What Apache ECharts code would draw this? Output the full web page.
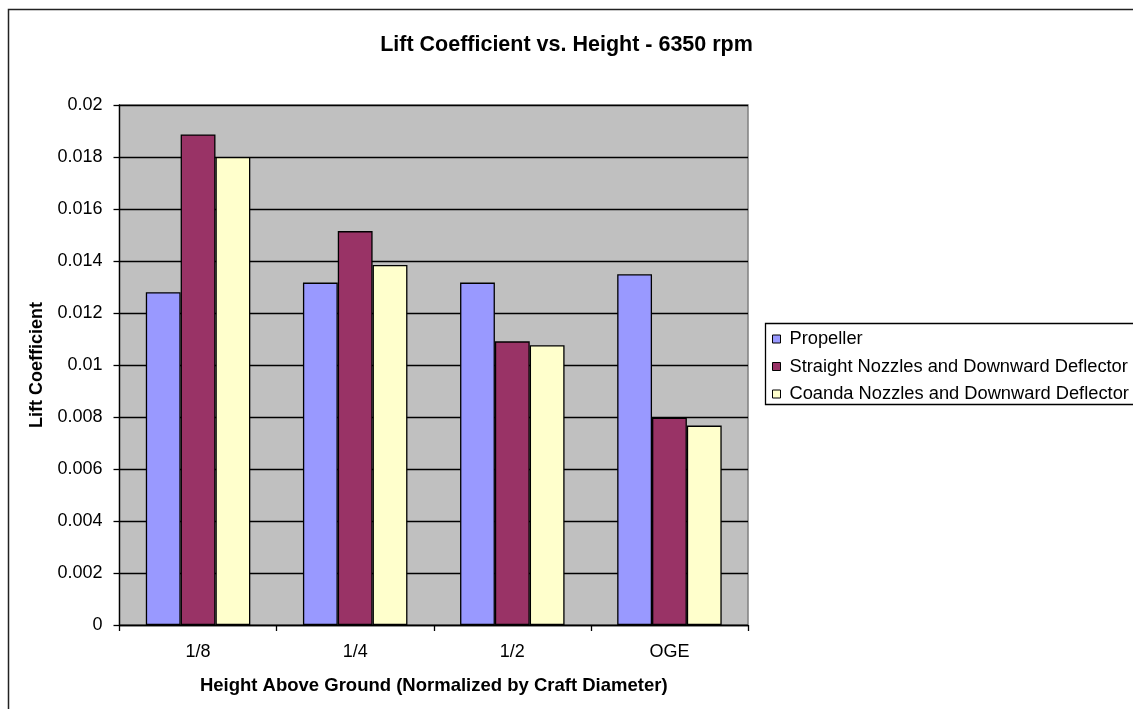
<!DOCTYPE html>
<html>
<head>
<meta charset="utf-8">
<title>Lift Coefficient vs. Height - 6350 rpm</title>
<script src="https://cdn.jsdelivr.net/npm/echarts@6/dist/echarts.min.js"></script>
<style>
  html, body { margin: 0; padding: 0; background: #ffffff; }
  #chart { width: 1133px; height: 709px; }
</style>
</head>
<body>
<div id="chart"></div>
<script>
// Heights above ground, normalized by craft diameter
const categories = ['1/8', '1/4', '1/2', 'OGE'];

// Lift coefficient per configuration
const seriesNames = [
  'Propeller',
  'Straight Nozzles and Downward Deflector',
  'Coanda Nozzles and Downward Deflector'
];
const propeller = [0.0128, 0.01317, 0.01317, 0.01349];
const straightNozzles = [0.01887, 0.01515, 0.01091, 0.00797];
const coandaNozzles = [0.0180, 0.01385, 0.01076, 0.00767];

// Value axis range
const yMin = 0;
const yMax = 0.02;
const yStep = 0.002;

const FONT = '"Liberation Sans", Arial, sans-serif';
const colors = ['#9999FF', '#993366', '#FFFFCC'];
const values = [propeller, straightNozzles, coandaNozzles];

const chart = echarts.init(document.getElementById('chart'), null, { renderer: 'canvas' });

chart.setOption({
  animation: false,
  backgroundColor: '#ffffff',
  title: {
    text: 'Lift Coefficient vs. Height - 6350 rpm',
    left: 'center',
    top: 29,
    textStyle: { fontFamily: FONT, fontSize: 21.5, fontWeight: 'bold', color: '#000' }
  },
  graphic: [
    // chart area frame
    {
      type: 'rect',
      shape: { x: 8.5, y: 9.5, width: 1200, height: 800 },
      style: { fill: 'none', stroke: '#222', lineWidth: 1.5 },
      silent: true
    },
    // legend frame
    {
      type: 'rect',
      shape: { x: 765.5, y: 323.5, width: 420, height: 81 },
      style: { fill: '#fff', stroke: '#000', lineWidth: 1.3 },
      silent: true,
      z: -1
    }
  ],
  legend: {
    orient: 'vertical',
    left: 772,
    top: 330,
    padding: 0,
    itemWidth: 8,
    itemHeight: 8,
    itemGap: 9.5,
    icon: 'rect',
    itemStyle: { borderColor: '#000', borderWidth: 1 },
    textStyle: { fontFamily: FONT, fontSize: 18.3, color: '#000', lineHeight: 18, padding: [0, 0, 0, 4] },
    data: seriesNames
  },
  grid: {
    left: 119.5,
    right: 385,
    top: 105,
    bottom: 84,
    show: true,
    backgroundColor: '#C0C0C0',
    borderColor: '#808080',
    borderWidth: 1.5,
    containLabel: false
  },
  xAxis: {
    type: 'category',
    data: categories,
    boundaryGap: true,
    name: 'Height Above Ground (Normalized by Craft Diameter)',
    nameLocation: 'middle',
    nameGap: 51,
    nameTextStyle: { fontFamily: FONT, fontSize: 18.5, fontWeight: 'bold', color: '#000' },
    axisLine: { show: true, lineStyle: { color: '#000', width: 1.3 } },
    axisTick: { show: true, length: 6, alignWithLabel: false, lineStyle: { color: '#000', width: 1.3 } },
    axisLabel: { margin: 18, fontFamily: FONT, fontSize: 18, color: '#000' },
    splitLine: { show: false }
  },
  yAxis: {
    type: 'value',
    min: yMin,
    max: yMax,
    interval: yStep,
    name: 'Lift Coefficient',
    nameLocation: 'middle',
    nameRotate: 90,
    nameGap: 73,
    nameTextStyle: { fontFamily: FONT, fontSize: 18, fontWeight: 'bold', color: '#000' },
    axisLine: { show: true, lineStyle: { color: '#000', width: 1.3 } },
    axisTick: { show: true, length: 6, lineStyle: { color: '#000', width: 1.3 } },
    axisLabel: {
      margin: 17,
      fontFamily: FONT,
      fontSize: 18,
      color: '#000',
      formatter: (v) => String(parseFloat(v.toFixed(4)))
    },
    splitLine: { show: true, lineStyle: { color: '#000', width: 1.3 } }
  },
  series: seriesNames.map((name, i) => ({
    name: name,
    type: 'bar',
    data: values[i],
    barGap: '0%',
    barCategoryGap: '33.5%',
    itemStyle: { color: colors[i], borderColor: '#000', borderWidth: 1.3 }
  }))
});
</script>
</body>
</html>
